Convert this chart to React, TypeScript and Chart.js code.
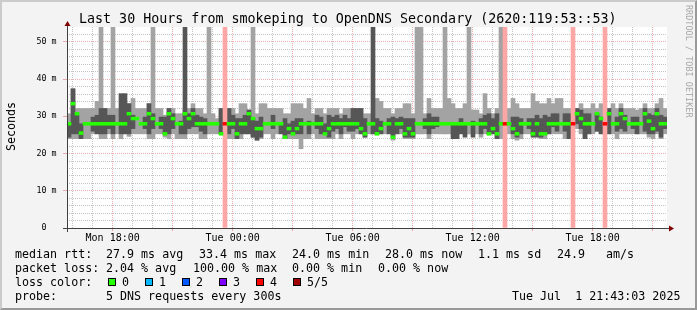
import React, { useEffect, useRef } from 'react';
import { Chart, registerables } from 'chart.js';

Chart.register(...registerables);

// Time frame: 30 hours ending Tue 21:43, one value per 12 minutes
const START_MIN = 943; // Mon 15:43, minutes after Mon 00:00
const SPAN_MIN = 1800;
const Y_MAX = 54;

// light smoke (full spread of the pings), ms
const smokeMin: (number | null)[] = [
  24.0, 24.0, 24.0, 24.0, 24.0, 24.0, 25.3, 25.3, 24.0, 24.0,
  25.3, 24.0, 25.3, 24.0, 25.3, 24.6, 25.3, 25.3, 25.3, 25.3,
  24.0, 24.0, 25.3, 25.3, 24.4, 24.0, 25.3, 24.0, 24.0, 24.0,
  25.3, 25.3, 25.3, 24.0, 24.0, 25.3, 25.3, 25.3, 25.3, null,
  24.0, 24.0, 24.0, 24.0, 25.3, 25.3, 24.4, 23.6, 24.0, 25.3,
  25.3, 24.0, 25.3, 25.3, 24.0, 24.0, 24.0, 24.0, 21.3, 24.0,
  24.0, 25.3, 24.0, 24.0, 24.0, 24.0, 24.0, 25.3, 24.0, 25.3,
  25.3, 24.0, 25.3, 25.3, 24.4, 25.3, 25.3, 25.3, 25.3, 25.3,
  25.3, 23.6, 25.3, 25.3, 24.0, 24.0, 24.0, 25.3, 25.3, 25.3,
  24.0, 25.3, 25.3, 25.3, 25.3, 25.3, 25.3, 24.0, 25.3, 25.3,
  25.3, 25.3, 25.3, 24.4, 25.3, 25.3, 25.3, 24.0, 24.0, null,
  25.3, 24.0, 23.6, 24.0, 25.3, 25.3, 25.3, 25.3, 24.0, 24.0,
  25.3, 25.3, 25.3, 25.3, 24.0, 24.0, null, 26.7, 25.3, 24.0,
  25.3, 25.3, 26.0, 25.3, null, 25.3, 25.3, 24.0, 25.3, 25.3,
  25.3, 25.3, 25.3, 25.3, 25.3, 24.4, 24.0, 25.3, 24.0, 25.3,
];
const smokeMax: (number | null)[] = [
  30.7, 37.4, 32.1, 32.1, 32.1, 32.1, 32.1, 34.0, 60, 32.1,
  32.1, 60, 32.1, 32.1, 33.4, 33.4, 34.8, 32.1, 32.1, 32.1,
  33.4, 60, 32.1, 32.1, 30.3, 32.1, 32.1, 30.7, 30.7, 32.1,
  32.1, 33.4, 32.1, 32.1, 30.7, 60, 30.7, 29.4, 32.1, null,
  32.1, 32.1, 30.7, 33.4, 33.4, 31.7, 60, 30.7, 33.4, 33.4,
  32.1, 32.1, 32.1, 32.1, 30.7, 30.7, 33.4, 33.4, 33.4, 32.1,
  34.8, 30.7, 32.1, 32.1, 30.7, 32.1, 32.1, 32.1, 30.7, 32.1,
  32.1, 32.1, 32.1, 32.1, 30.7, 30.7, 30.7, 34.8, 34.0, 32.1,
  32.1, 30.7, 32.1, 32.1, 33.4, 33.4, 30.7, 60, 60, 30.7,
  34.8, 32.1, 32.1, 32.1, 60, 34.8, 33.4, 32.1, 32.1, 33.4,
  60, 31.7, 31.7, 30.7, 36.1, 32.1, 30.7, 32.1, 60, null,
  32.1, 34.8, 33.4, 32.1, 32.1, 32.1, 36.1, 34.0, 33.4, 33.4,
  34.8, 33.4, 34.8, 34.8, 32.1, 32.1, null, 32.1, 33.4, 32.1,
  32.1, 33.4, 32.1, 33.4, null, 32.1, 33.4, 32.1, 33.4, 32.1,
  32.1, 32.1, 31.7, 32.1, 33.4, 32.1, 32.1, 33.4, 34.8, 32.1,
];
// dark smoke (inner pings), ms
const coreLo: (number | null)[] = [
  24.4, 25.3, 25.3, 24.0, null, null, 26.0, 25.3, 25.3, 25.3,
  26.7, 25.3, null, 25.3, 25.3, 25.3, 26.7, null, null, 26.7,
  25.3, 26.7, null, 26.7, 25.3, 25.3, 26.7, null, 25.3, 25.3,
  26.7, 27.2, 27.2, 26.0, 25.3, null, null, null, 25.3, null,
  25.3, 26.7, 24.0, 25.3, 25.3, 25.3, 24.4, 23.6, 24.4, null,
  null, 26.7, null, 25.3, 24.0, 25.3, 25.3, 25.3, 25.3, null,
  25.3, null, 26.7, 25.3, 25.3, 24.4, 26.0, 26.7, 25.3, 27.2,
  26.0, 26.0, 26.7, 25.3, 24.4, null, 25.3, 25.3, 25.3, null,
  25.3, 24.4, 25.3, 26.7, 24.4, 24.4, 24.4, null, null, 26.7,
  25.3, 26.7, 27.2, null, null, null, 24.0, 24.0, 25.3, 24.4,
  null, 24.4, null, 25.3, 26.7, 25.3, 25.3, 24.0, null, null,
  null, 25.3, 24.4, 25.3, null, 26.7, 24.4, 24.4, 24.4, 25.3,
  25.3, 27.2, 26.0, null, 26.0, 24.0, null, 28.0, 26.7, 24.0,
  25.3, null, 26.0, 25.3, null, 25.3, null, 26.0, 26.7, 26.0,
  null, 26.7, 25.3, null, 26.0, 25.3, 25.3, 26.0, 24.4, 26.7,
];
const coreHi: (number | null)[] = [
  28.0, 37.4, 30.3, 28.0, null, null, 29.8, 30.3, 32.1, 32.1,
  30.3, 30.3, null, 36.1, 36.1, 33.4, 30.3, null, null, 29.8,
  33.4, 30.7, null, 29.8, 29.8, 32.1, 30.7, null, 28.7, 60,
  30.7, 32.1, 30.3, 29.8, 29.4, null, null, null, 32.1, null,
  32.1, 30.3, 29.4, 29.4, 30.3, 31.7, 29.4, 28.7, 29.8, null,
  null, 30.3, null, 28.0, 29.4, 28.0, 28.7, 29.4, 29.4, null,
  28.7, null, 30.3, 29.8, 28.0, 30.3, 29.8, 30.3, 29.4, 30.3,
  29.4, 32.1, 32.1, 32.1, 29.4, null, 60, 29.4, 28.7, null,
  29.4, 29.8, 29.4, 29.8, 29.4, 29.4, 29.4, null, null, 29.4,
  30.7, 29.8, 29.8, null, null, null, 28.0, 28.0, 29.4, 28.0,
  null, 28.7, null, 29.4, 30.3, 30.7, 29.4, 30.7, null, null,
  null, 29.8, 29.8, 29.4, null, 29.4, 29.4, 30.3, 29.4, 30.3,
  29.8, 30.7, 30.7, null, 30.7, 30.7, null, 32.1, 31.7, 30.7,
  30.7, null, 30.7, 29.8, null, 32.1, null, 29.8, 32.1, 30.3,
  null, 29.8, 29.8, null, 32.1, 30.7, 30.3, 32.1, 30.3, 29.8,
];
// median round trip time, ms
const median: number[] = [
  28.0, 33.4, 30.7, 25.5, 28.0, 28.0, 28.0, 28.0, 28.0, 28.0,
  28.0, 28.0, 28.0, 28.0, 28.0, 30.7, 29.4, 29.4, 28.0, 28.0,
  30.7, 29.4, 28.0, 28.0, 25.3, 30.7, 29.4, 28.0, 28.0, 30.7,
  29.4, 30.7, 28.0, 28.0, 28.0, 28.0, 28.0, 28.0, 25.3, 28.0,
  28.0, 28.0, 25.3, 28.0, 28.0, 30.7, 29.4, 26.7, 26.7, 28.0,
  28.0, 28.0, 28.0, 28.0, 24.4, 26.7, 25.3, 26.7, 28.0, 28.0,
  28.0, 28.0, 28.0, 28.0, 25.3, 26.7, 28.0, 28.0, 28.0, 28.0,
  28.0, 28.0, 28.0, 26.7, 25.3, 28.0, 28.0, 25.3, 26.7, 28.0,
  28.0, 24.4, 28.0, 28.0, 25.3, 26.7, 25.3, 28.0, 28.0, 28.0,
  28.0, 28.0, 28.0, 28.0, 28.0, 28.0, 28.0, 28.0, 28.0, 28.0,
  28.0, 28.0, 28.0, 28.0, 28.0, 25.3, 26.7, 25.3, 28.0, 28.0,
  28.0, 26.7, 25.3, 28.0, 28.0, 28.0, 25.3, 28.0, 25.3, 25.3,
  28.0, 28.0, 28.0, 28.0, 28.0, 28.0, 28.0, 30.7, 29.4, 28.0,
  28.0, 28.0, 30.7, 29.4, 28.0, 30.7, 28.0, 28.0, 30.7, 29.4,
  28.0, 28.0, 28.0, 28.0, 30.7, 28.7, 26.7, 30.7, 28.0, 28.0,
];
// lost pings out of 5
const lostPings: number[] = [
  0, 0, 0, 0, 0, 0, 0, 0, 0, 0, 0, 0, 0, 0, 0, 0, 0, 0, 0, 0,
  0, 0, 0, 0, 0, 0, 0, 0, 0, 0, 0, 0, 0, 0, 0, 0, 0, 0, 0, 4,
  0, 0, 0, 0, 0, 0, 0, 0, 0, 0, 0, 0, 0, 0, 0, 0, 0, 0, 0, 0,
  0, 0, 0, 0, 0, 0, 0, 0, 0, 0, 0, 0, 0, 0, 0, 0, 0, 0, 0, 0,
  0, 0, 0, 0, 0, 0, 0, 0, 0, 0, 0, 0, 0, 0, 0, 0, 0, 0, 0, 0,
  0, 0, 0, 0, 0, 0, 0, 0, 0, 4, 0, 0, 0, 0, 0, 0, 0, 0, 0, 0,
  0, 0, 0, 0, 0, 0, 4, 0, 0, 0, 0, 0, 0, 0, 4, 0, 0, 0, 0, 0,
  0, 0, 0, 0, 0, 0, 0, 0, 0, 0,
];

const xTickHours = [
  16, 17, 18, 19, 20, 21, 22, 23, 24, 25, 26, 27, 28, 29, 30,
  31, 32, 33, 34, 35, 36, 37, 38, 39, 40, 41, 42, 43, 44, 45,
];
const yTickValues = [
  0, 2, 4, 6, 8, 10, 12, 14, 16, 18, 20, 22, 24, 26,
  28, 30, 32, 34, 36, 38, 40, 42, 44, 46, 48, 50, 52,
];
const lossLegend = ['0', '1', '2', '3', '4', '5/5'];
const lossColors = ['#26ff00', '#00b8ff', '#0059ff', '#7e00ff', '#ff0000', '#a00000'];

const legendRows: [number, string][][] = [
  [[15, 'median rtt:'], [106, '27.9 ms avg'], [199, '33.4 ms max'], [292, '24.0 ms min'], [385, '28.0 ms now'], [478, '1.1 ms sd'], [557, '24.9'], [606, 'am/s']],
  [[15, 'packet loss:'], [106, '2.04 % avg'], [193, '100.00 % max'], [292, '0.00 % min'], [378, '0.00 % now']],
  [[15, 'loss color:']],
  [[15, 'probe:'], [106, '5 DNS requests every 300s'], [512, 'Tue Jul  1 21:43:03 2025']],
];
const legendBoxX = [108, 145, 182, 219, 256, 293];

const MONO = '"DejaVu Sans Mono", monospace';
const LIGHT = '#a3a3a3';
const DARK = '#565656';
const PINK = '#ffa6a6';
const GRID = 'rgba(140,140,140,0.5)';
const MGRID = 'rgba(222,79,79,0.45)';
const CLEAR = 'rgba(0,0,0,0)';
const AXIS = '#404040';
const ARROW = '#800000';
const MED_HALF = 0.38;

function hourOf(v: number) {
  return Math.round((v + START_MIN) / 60);
}
function xLabel(v: number) {
  const h = hourOf(v);
  if (h % 6 !== 0) return '';
  const day = h < 24 ? 'Mon' : 'Tue';
  return `${day} ${String(h % 24).padStart(2, '0')}:00`;
}
function yLabel(v: number) {
  if (v === 0) return '0  ';
  if (v % 10 === 0) return `${v} m`;
  return '';
}
function xMajor(c: any) {
  return !!(c && c.tick && hourOf(c.tick.value) % 3 === 0);
}
function yMajor(c: any) {
  return !!(c && c.tick && c.tick.value % 10 === 0);
}

const framePlugin = {
  id: 'rrdFrame',
  beforeDraw(chart: any) {
    const { ctx, chartArea: a } = chart;
    ctx.save();
    ctx.fillStyle = '#ffffff';
    ctx.fillRect(a.left, a.top, a.right - a.left, a.bottom - a.top);
    ctx.restore();
  },
  afterDraw(chart: any) {
    const { ctx, chartArea: a } = chart;
    ctx.save();
    ctx.strokeStyle = AXIS;
    ctx.lineWidth = 1;
    ctx.beginPath();
    ctx.moveTo(a.left - 4, a.bottom + 0.5);
    ctx.lineTo(a.right + 3, a.bottom + 0.5);
    ctx.moveTo(a.left + 0.5, a.bottom + 4);
    ctx.lineTo(a.left + 0.5, a.top - 2);
    ctx.stroke();
    ctx.fillStyle = ARROW;
    ctx.beginPath();
    ctx.moveTo(a.right + 2, a.bottom - 2.5);
    ctx.lineTo(a.right + 7, a.bottom + 0.5);
    ctx.lineTo(a.right + 2, a.bottom + 3.5);
    ctx.closePath();
    ctx.fill();
    ctx.beginPath();
    ctx.moveTo(a.left - 2.5, a.top - 1);
    ctx.lineTo(a.left + 0.5, a.top - 6);
    ctx.lineTo(a.left + 3.5, a.top - 1);
    ctx.closePath();
    ctx.fill();
    ctx.restore();
  },
};

export default function App() {
  const ref = useRef<HTMLCanvasElement>(null);

  useEffect(() => {
    document.body.style.margin = '0';
    const labels = median.map((_, i) => String(i));
    const smokeData = smokeMin.map((v, i) => (v === null || smokeMax[i] === null ? null : [v, smokeMax[i]]));
    const coreData = coreLo.map((v, i) => (v === null || coreHi[i] === null ? null : [v, coreHi[i]]));
    const medData = median.map((m) => [m - MED_HALF, m + MED_HALF]);
    const medColors = lostPings.map((l) => lossColors[l]);
    const lossData = lostPings.map((l) => (l > 0 ? [0, Y_MAX] : null));

    const barCommon = {
      barPercentage: 1,
      categoryPercentage: 1,
      grouped: false,
      borderWidth: 0,
      xAxisID: 'x',
      yAxisID: 'y',
    };

    let chart: any = null;
    try {
      chart = new Chart(ref.current as HTMLCanvasElement, {
        type: 'bar',
        data: {
          labels,
          datasets: [
            { ...barCommon, label: 'median', data: medData as any, backgroundColor: medColors, order: 0 },
            { ...barCommon, label: 'loss', data: lossData as any, backgroundColor: PINK, order: 1 },
            { ...barCommon, label: 'core', data: coreData as any, backgroundColor: DARK, order: 2 },
            { ...barCommon, label: 'smoke', data: smokeData as any, backgroundColor: LIGHT, order: 3 },
          ],
        },
        options: {
          animation: false,
          responsive: false,
          maintainAspectRatio: false,
          events: [],
          layout: { padding: { left: 0, right: 30, top: 27, bottom: 0 } },
          plugins: { legend: { display: false }, tooltip: { enabled: false }, title: { display: false } },
          scales: {
            x: { type: 'category', display: false, offset: true },
            xt: {
              type: 'linear',
              position: 'bottom',
              offset: false,
              bounds: 'data',
              min: 0,
              max: SPAN_MIN,
              afterBuildTicks: (s: any) => {
                s.ticks = xTickHours.map((h) => ({ value: h * 60 - START_MIN }));
              },
              afterFit: (s: any) => {
                s.height = 82;
              },
              ticks: {
                autoSkip: false,
                maxRotation: 0,
                minRotation: 0,
                padding: 1,
                color: '#000',
                font: { family: MONO, size: 10 },
                callback: (v: any) => xLabel(Number(v)),
              },
              grid: {
                offset: false,
                lineWidth: 1,
                color: (c: any) => (xMajor(c) ? MGRID : GRID),
                drawTicks: true,
                tickLength: 3,
                tickColor: (c: any) => (xMajor(c) ? MGRID : CLEAR),
              },
              border: { display: false, dash: [1, 1] },
            } as any,
            y: {
              min: 0,
              max: Y_MAX,
              afterBuildTicks: (s: any) => {
                s.ticks = yTickValues.map((v) => ({ value: v }));
              },
              afterFit: (s: any) => {
                s.width = 67;
              },
              ticks: {
                autoSkip: false,
                padding: 6.5,
                color: '#000',
                font: { family: MONO, size: 8.3 },
                callback: (v: any) => yLabel(Number(v)),
              },
              grid: {
                lineWidth: 1,
                color: (c: any) => (yMajor(c) ? MGRID : GRID),
                drawTicks: true,
                tickLength: 4,
                tickColor: (c: any) => (yMajor(c) ? MGRID : CLEAR),
              },
              border: { display: false, dash: [1, 1] },
            } as any,
          },
        },
        plugins: [framePlugin],
      });
    } catch (e) {
      console.error(e);
    }
    return () => {
      if (chart) chart.destroy();
    };
  }, []);

  const rowTop = [246.7, 260.7, 274.7, 288.7];

  return (
    <div
      style={{
        position: 'absolute',
        left: 0,
        top: 0,
        width: 697,
        height: 310,
        background: '#f3f3f3',
        overflow: 'hidden',
        fontFamily: MONO,
        color: '#000',
      }}
    >
      <canvas ref={ref} width={697} height={310} style={{ position: 'absolute', left: 0, top: 0 }} />
      <div style={{ position: 'absolute', left: 79, top: 12.4, fontSize: 13.33, lineHeight: '14px', whiteSpace: 'pre' }}>
        Last 30 Hours from smokeping to OpenDNS Secondary (2620:119:53::53)
      </div>
      <div
        style={{
          position: 'absolute',
          left: 4,
          top: 150.5,
          fontSize: 11.66,
          lineHeight: '14px',
          whiteSpace: 'pre',
          transform: 'rotate(-90deg)',
          transformOrigin: 'left top',
        }}
      >
        Seconds
      </div>
      <div
        style={{
          position: 'absolute',
          left: 694,
          top: 5,
          fontSize: 8.5,
          lineHeight: '10px',
          whiteSpace: 'pre',
          color: '#a8a8a8',
          transform: 'rotate(90deg)',
          transformOrigin: 'left top',
        }}
      >
        RRDTOOL / TOBI OETIKER
      </div>
      {legendRows.map((row, r) =>
        row.map(([x, t], k) => (
          <div
            key={`${r}-${k}`}
            style={{ position: 'absolute', left: x, top: rowTop[r], fontSize: 11.66, lineHeight: '14px', whiteSpace: 'pre' }}
          >
            {t}
          </div>
        ))
      )}
      {lossLegend.map((t, i) => (
        <React.Fragment key={t}>
          <div
            style={{
              position: 'absolute',
              left: legendBoxX[i],
              top: 278,
              width: 6,
              height: 6,
              background: lossColors[i],
              border: '1px solid #000',
            }}
          />
          <div
            style={{ position: 'absolute', left: legendBoxX[i] + 14, top: rowTop[2], fontSize: 11.66, lineHeight: '14px', whiteSpace: 'pre' }}
          >
            {t}
          </div>
        </React.Fragment>
      ))}
      <div
        style={{
          position: 'absolute',
          left: 0,
          top: 0,
          width: 697,
          height: 310,
          boxSizing: 'border-box',
          borderTop: '2px solid #cbcbcb',
          borderLeft: '2px solid #cbcbcb',
          borderRight: '2px solid #999999',
          borderBottom: '2px solid #999999',
          pointerEvents: 'none',
        }}
      />
    </div>
  );
}
